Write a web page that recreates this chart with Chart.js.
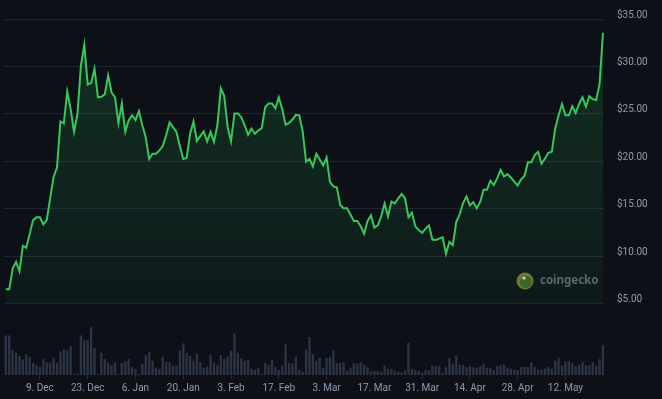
<!DOCTYPE html>
<html>
<head>
<meta charset="utf-8">
<script src="https://cdn.jsdelivr.net/npm/chart.js@4.4.1/dist/chart.umd.min.js"></script>
<style>
  html, body { margin: 0; padding: 0; background: #0d1117; }
  #wrap { width: 662px; height: 399px; }
</style>
</head>
<body>
<div id="wrap"><canvas id="priceChart" width="662" height="399"></canvas></div>
<script>
// daily closes, 29 Nov -> 23 May (day 0 = 29 Nov)
const prices = [
  6.5, 6.5, 8.7, 9.4, 8.4, 11.1, 10.9, 12.35, 13.8, 14.1,
  14.1, 13.35, 13.8, 16.1, 18.35, 19.35, 24.2, 24.0, 27.35, 25.5,
  23.1, 25.0, 30.05, 32.3, 28.1, 28.25, 29.75, 26.75, 26.8, 27.05,
  29.05, 27.25, 26.75, 24.05, 26.1, 23.1, 24.3, 24.85, 24.35, 25.3,
  23.8, 22.55, 20.25, 20.8, 20.8, 21.15, 21.6, 22.75, 24.1, 23.6,
  23.1, 21.6, 20.25, 20.35, 22.9, 24.2, 22.15, 22.65, 23.15, 22.1,
  23.1, 22.05, 23.8, 27.7, 26.9, 23.6, 22.1, 25.05, 25.05, 24.65,
  23.8, 22.8, 23.45, 22.9, 23.25, 23.5, 25.7, 26.1, 26.1, 25.6,
  26.75, 25.5, 23.85, 24.05, 24.4, 24.9, 24.85, 23.15, 19.95, 20.25,
  19.45, 20.8, 20.2, 19.55, 20.4, 17.8, 17.35, 17.25, 15.4, 15.05,
  15.05, 14.4, 13.7, 13.7, 13.15, 12.35, 13.7, 14.3, 13.0, 13.25,
  14.2, 15.55, 14.2, 15.75, 15.55, 16.1, 16.55, 16.1, 14.1, 14.6,
  13.15, 12.75, 12.45, 12.9, 13.25, 11.75, 11.7, 11.85, 12.0, 10.25,
  11.5, 11.15, 13.6, 14.4, 15.6, 16.3, 15.35, 15.7, 15.05, 15.7,
  17.0, 17.0, 17.95, 17.5, 18.2, 19.1, 18.4, 18.65, 18.3, 17.85,
  17.45, 18.1, 18.45, 19.9, 19.9, 20.65, 21.0, 19.75, 20.3, 20.9,
  21.0, 23.45, 24.85, 26.05, 24.85, 24.85, 25.8, 25.1, 26.05, 26.75,
  25.75, 26.85, 26.55, 26.45, 28.15, 33.55
];

// daily volume, relative units
const volumes = [
  120, 120, 75, 67, 58, 47, 63, 55, 36, 31,
  25, 48, 39, 36, 52, 36, 72, 78, 75, 88,
  3, 4, 120, 105, 105, 145, 82, 3, 67, 48,
  38, 30, 38, 3, 36, 42, 48, 25, 18, 3,
  34, 60, 69, 43, 22, 19, 55, 40, 39, 29,
  29, 74, 96, 67, 58, 43, 64, 39, 22, 25,
  61, 38, 31, 60, 49, 55, 74, 126, 67, 50,
  43, 45, 19, 16, 22, 3, 36, 31, 46, 25,
  15, 28, 93, 36, 34, 55, 16, 10, 76, 115,
  63, 43, 52, 22, 52, 55, 74, 36, 36, 39,
  12, 22, 36, 34, 39, 31, 24, 10, 12, 12,
  10, 29, 19, 19, 13, 10, 7, 14, 98, 19,
  15, 12, 7, 14, 15, 29, 28, 27, 7, 24,
  52, 34, 58, 31, 31, 24, 27, 24, 22, 27,
  34, 22, 22, 14, 27, 29, 31, 22, 19, 16,
  14, 24, 24, 24, 39, 24, 17, 15, 19, 24,
  19, 43, 52, 29, 41, 43, 36, 27, 31, 39,
  29, 29, 39, 27, 48, 91
];

const tickDays = [10, 24, 38, 52, 66, 80, 94, 108, 122, 136, 150, 164];
const tickLabels = ['9. Dec', '23. Dec', '6. Jan', '20. Jan', '3. Feb', '17. Feb',
                    '3. Mar', '17. Mar', '31. Mar', '14. Apr', '28. Apr', '12. May'];
const priceTicks = [5, 10, 15, 20, 25, 30, 35];

const priceData = prices.map((v, i) => ({ x: i, y: v }));
const volumeData = volumes.map((v, i) => ({ x: i, y: v }));

const labelColor = '#8b9bb4';
const gridColor = '#1f2530';

function fillGradient(context) {
  const area = context.chart.chartArea;
  if (!area) return 'rgba(40,170,80,0.1)';
  const g = context.chart.ctx.createLinearGradient(0, area.top, 0, 303);
  g.addColorStop(0, 'rgba(40, 180, 85, 0.20)');
  g.addColorStop(1, 'rgba(40, 180, 85, 0.06)');
  return g;
}

// faded brand mark in the lower right of the price area
const watermark = {
  id: 'watermark',
  beforeDatasetsDraw(chart) {
    const c = chart.ctx;
    c.save();
    c.beginPath();
    c.arc(525, 281, 8.5, 0, Math.PI * 2);
    c.fillStyle = '#6f7431';
    c.fill();
    c.beginPath();
    c.arc(526, 282, 6, 0, Math.PI * 2);
    c.fillStyle = '#3e5e27';
    c.fill();
    c.beginPath();
    c.arc(524, 278, 1.6, 0, Math.PI * 2);
    c.fillStyle = '#d8d8c8';
    c.fill();
    c.font = 'bold 11.5px "Noto Sans", Roboto, sans-serif';
    c.fillStyle = '#5b626d';
    c.textBaseline = 'middle';
    c.fillText('coingecko', 540, 281);
    c.restore();
  }
};

var ctx = document.getElementById('priceChart').getContext('2d');

var config = {
  type: 'line',
  data: {
    datasets: [{
      type: 'line',
      label: 'Price',
      data: priceData,
      yAxisID: 'y',
      borderColor: '#38c75a',
      borderWidth: 2,
      pointRadius: 0,
      tension: 0,
      fill: { value: 5 },
      backgroundColor: fillGradient,
      order: 1
    }, {
      type: 'bar',
      label: 'Volume',
      data: volumeData,
      yAxisID: 'yVol',
      backgroundColor: '#2c3545',
      categoryPercentage: 0.75,
      barPercentage: 0.9,
      order: 2
    }]
  },
  options: {
    responsive: false,
    animation: false,
    layout: { padding: { top: 16, left: 4, right: 0, bottom: 0 } },
    plugins: {
      legend: { display: false },
      tooltip: { enabled: false }
    },
    scales: {
      x: {
        type: 'linear',
        min: -0.53,
        max: 175.3,
        offset: false,
        afterBuildTicks: (scale) => { scale.ticks = tickDays.map(v => ({ value: v })); },
        afterFit: (scale) => { scale.height = 24; },
        ticks: {
          autoSkip: false,
          maxRotation: 0,
          padding: 3,
          color: labelColor,
          font: { family: 'Roboto', size: 10 },
          callback: (value, index) => tickLabels[index]
        },
        grid: { drawOnChartArea: false, drawTicks: true, tickLength: 4, color: '#262d3a', offset: false },
        border: { display: false }
      },
      y: {
        position: 'right',
        min: -2.526,
        max: 35,
        afterBuildTicks: (scale) => { scale.ticks = priceTicks.map(v => ({ value: v })); },
        afterFit: (scale) => { scale.width = 58; },
        ticks: {
          padding: 13,
          labelOffset: -4,
          color: labelColor,
          font: { family: 'Roboto', size: 10 },
          callback: (v) => '$' + Number(v).toFixed(2)
        },
        grid: { color: gridColor, drawTicks: false },
        border: { display: false }
      },
      yVol: {
        position: 'left',
        display: false,
        min: 0,
        max: 1077
      }
    }
  },
  plugins: [watermark]
};

var priceChart = new Chart(ctx, config);
</script>
</body>
</html>
